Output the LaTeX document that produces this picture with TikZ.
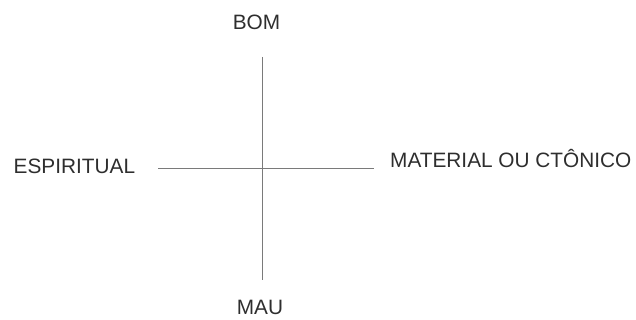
\documentclass[tikz,border=0pt]{standalone}
\usepackage{fontspec}
\setmainfont{Liberation Sans}
\definecolor{txt}{HTML}{2E2E2E}
\definecolor{axis}{HTML}{7A7A7A}
\begin{document}
\begin{tikzpicture}[x=1pt,y=-1pt,
  lbl/.style={inner sep=0pt,text=txt,font=\fontsize{20.8}{24}\selectfont},
  axisline/.style={draw=axis,line width=1.1pt}]
\useasboundingbox (0,0) rectangle (636,320);
\node[lbl,anchor=base] (bom) at (256.5,30) {BOM};
\node[lbl,anchor=base] (mau) at (260,314.5) {MAU};
\node[lbl,anchor=base west] (esp) at (13.5,174) {ESPIRITUAL};
\node[lbl,anchor=base west] (mat) at (390,168) {MATERIAL OU CTÔNICO};
\coordinate (vt) at (262.7,57);
\coordinate (vb) at (262.7,280);
\coordinate (hl) at (158,168.5);
\coordinate (hr) at (374,168.5);
\draw[axisline] (vt) -- (vb);
\draw[axisline] (hl) -- (hr);
\end{tikzpicture}
\end{document}
